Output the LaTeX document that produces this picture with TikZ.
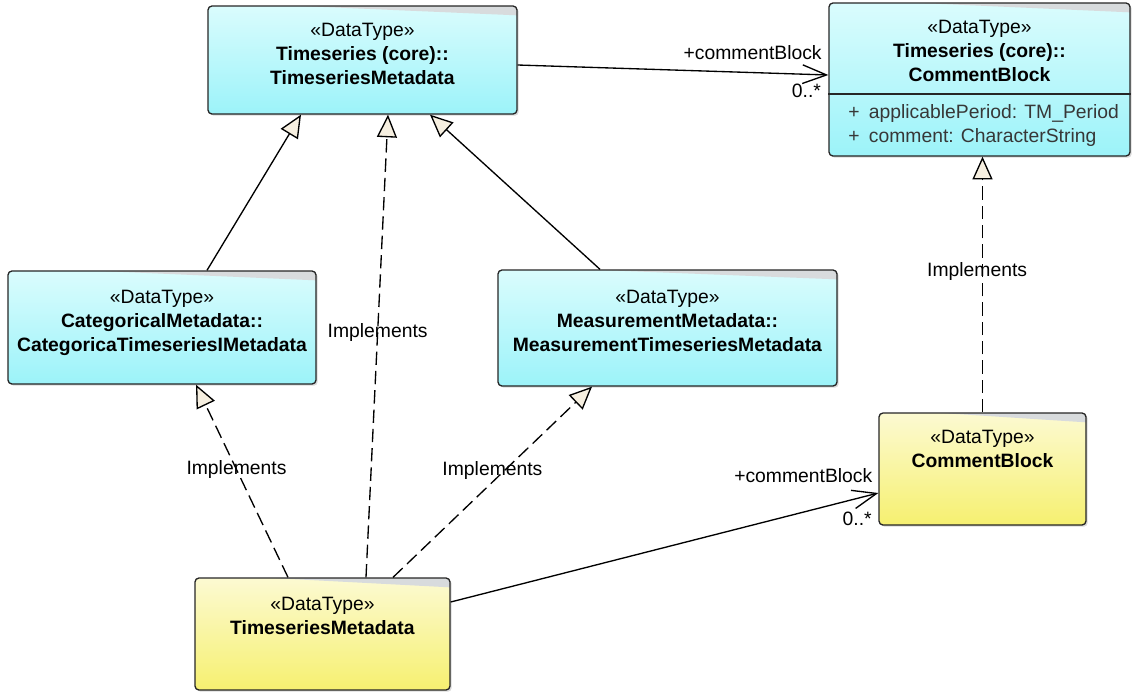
\documentclass[tikz,border=0pt]{standalone}
\usepackage{fontspec}
\setmainfont{Liberation Sans}
\usepackage{tikz}
\usetikzlibrary{arrows.meta, positioning, calc, shadows}
\definecolor{ClsCyanTop}{RGB}{218, 252, 253}
\definecolor{ClsCyanBot}{RGB}{156, 243, 249}
\definecolor{ClsYelTop}{RGB}{252, 250, 210}
\definecolor{ClsYelBot}{RGB}{246, 240, 112}
\definecolor{ClsWedge}{RGB}{216, 219, 221}
\definecolor{TriFill}{RGB}{246, 239, 224}
\definecolor{AttrGray}{RGB}{55, 55, 55}

\begin{document}
\begin{tikzpicture}[x=0.75pt, y=-0.75pt,
  cls/.style={draw=black!85, line width=1pt, rounded corners=3pt, inner sep=0pt,
    drop shadow={shadow xshift=1.3pt, shadow yshift=-1.3pt, opacity=0.3},
    path picture={\fill[ClsWedge, sharp corners]
      ($(path picture bounding box.north west)!0.3!(path picture bounding box.north east)$)
      -- (path picture bounding box.north east)
      -- ([yshift=-7pt]path picture bounding box.north east) -- cycle;}},
  cyanbox/.style={cls, top color=ClsCyanTop, bottom color=ClsCyanBot},
  yelbox/.style={cls, top color=ClsYelTop, bottom color=ClsYelBot},
  hdr/.style={align=center, inner sep=0pt, font=\fontsize{14.5}{18}\selectfont},
  attr/.style={anchor=west, inner sep=0pt, text=AttrGray, font=\fontsize{14.5}{18}\selectfont},
  lbl/.style={inner sep=0pt, font=\fontsize{14.5}{16}\selectfont},
  gen/.style={-{Triangle[open, fill=TriFill, length=17pt, width=15pt]}, line width=1pt},
  real/.style={gen, dash pattern=on 10pt off 4.5pt},
  assoc/.style={-{Straight Barb[length=18pt, width=14pt]}, line width=1pt}
]
\useasboundingbox (0,0) rectangle (1132,694);

\node[cyanbox, minimum width=231.75pt, minimum height=81pt] (core) at (362.5,60) {};
\node[cyanbox, minimum width=225.75pt, minimum height=114.75pt] (cbcore) at (979.5,79.5) {};
\node[cyanbox, minimum width=231pt, minimum height=84.75pt] (catm) at (162,327.5) {};
\node[cyanbox, minimum width=254.25pt, minimum height=87pt] (measm) at (667.5,328) {};
\node[yelbox, minimum width=155.25pt, minimum height=84pt] (cbyel) at (982.5,469) {};
\node[yelbox, minimum width=191.25pt, minimum height=84pt] (tsm) at (322.5,634) {};

\node[hdr, below=13.5pt of core.north] (core-t)
  {«DataType»\\ \textbf{Timeseries (core)::}\\ \textbf{TimeseriesMetadata}};
\node[hdr, below=13.5pt of cbcore.north] (cbcore-t)
  {«DataType»\\ \textbf{Timeseries (core)::}\\ \textbf{CommentBlock}};
\draw[line width=1pt, draw=black!85] (cbcore.west |- 0,94) -- (cbcore.east |- 0,94);
\node[attr] (cbcore-a1) at (848,113) {+\hspace{7pt}applicablePeriod: TM\_Period};
\node[attr] (cbcore-a2) at (848,137) {+\hspace{7pt}comment: CharacterString};
\node[hdr, below=14.5pt of catm.north] (catm-t)
  {«DataType»\\ \textbf{CategoricalMetadata::}\\ \textbf{CategoricaTimeseriesIMetadata}};
\node[hdr, below=15.5pt of measm.north] (measm-t)
  {«DataType»\\ \textbf{MeasurementMetadata::}\\ \textbf{MeasurementTimeseriesMetadata}};
\node[hdr, below=13pt of cbyel.north] (cbyel-t)
  {«DataType»\\ \textbf{CommentBlock}};
\node[hdr, below=15pt of tsm.north] (tsm-t)
  {«DataType»\\ \textbf{TimeseriesMetadata}};

\draw[assoc] ($(core.east)+(0,5)$) -- ($(cbcore.west)+(0,-4.5)$)
  node[lbl, pos=1, anchor=south east, xshift=-4.5pt, yshift=11pt] (core-role) {+commentBlock}
  node[lbl, pos=1, anchor=north east, xshift=-5pt, yshift=-6pt] (core-mult) {0..*};
\draw[gen] ($(catm.north)+(45,0)$) -- ($(core.south)+(-61.5,0)$);
\draw[gen] ($(measm.north)+(-67.5,0)$) -- ($(core.south)+(67.5,0)$);
\draw[real] ($(tsm.north)+(43.5,0)$) -- ($(core.south)+(25.5,0)$)
  node[lbl, pos=0.53] (impl-core) {Implements};
\draw[real] ($(tsm.north)+(-34.5,0)$) -- ($(catm.south)+(34,0)$)
  node[lbl, pos=0.56] (impl-catm) {Implements};
\draw[real] ($(tsm.north)+(70.5,0)$) -- ($(measm.south)+(-75.5,0)$)
  node[lbl, pos=0.56, xshift=-9pt] (impl-measm) {Implements};
\draw[real] (cbyel.north) -- (cbyel.north |- cbcore.south)
  node[lbl, pos=0.55, xshift=-4pt] (impl-cb) {Implements};
\draw[assoc] ($(tsm.east)+(0,-32)$) -- ($(cbyel.west)+(0,24)$)
  node[lbl, pos=1, anchor=south east, xshift=-4pt, yshift=7pt] (tsm-role) {+commentBlock}
  node[lbl, pos=1, anchor=north east, xshift=-4.5pt, yshift=-14pt] (tsm-mult) {0..*};
\end{tikzpicture}
\end{document}
